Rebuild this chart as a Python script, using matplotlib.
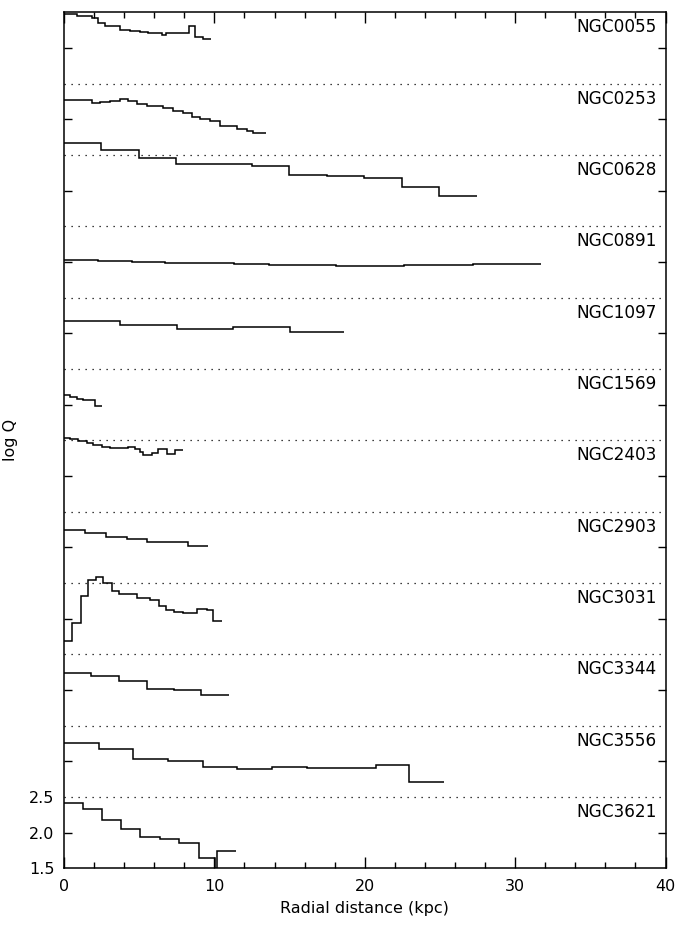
import matplotlib
matplotlib.use("Agg")
import matplotlib.pyplot as plt
from matplotlib.ticker import MultipleLocator

# ---- data: step edges (kpc) and log Q values per galaxy (top to bottom) ----
galaxies = ["NGC0055", "NGC0253", "NGC0628", "NGC0891", "NGC1097", "NGC1569",
            "NGC2403", "NGC2903", "NGC3031", "NGC3344", "NGC3556", "NGC3621"]

r_ngc0055 = [0, 0.86, 1.86, 2.26, 2.73, 3.72, 4.39, 5.05, 5.59, 6.52, 6.8, 7.38, 8.31, 8.71, 9.24, 9.77]
q_ngc0055 = [2.475, 2.455, 2.417, 2.347, 2.309, 2.249, 2.239, 2.221, 2.207, 2.187, 2.204, 2.215, 2.309, 2.159, 2.127]

r_ngc0253 = [0, 1.84, 2.39, 3.06, 3.72, 4.26, 4.83, 5.50, 6.58, 7.25, 7.91, 8.49, 9.04, 9.71, 10.37, 11.48, 12.15, 12.57, 13.43]
q_ngc0253 = [2.271, 2.233, 2.247, 2.261, 2.281, 2.261, 2.215, 2.187, 2.163, 2.117, 2.093, 2.037, 2.009, 1.977, 1.907, 1.860, 1.832, 1.813]

r_ngc0628 = [0, 2.46, 4.97, 7.45, 12.48, 14.98, 17.47, 19.97, 22.45, 24.95, 27.44]
q_ngc0628 = [2.672, 2.570, 2.451, 2.369, 2.352, 2.219, 2.205, 2.181, 2.047, 1.929]

r_ngc0891 = [0, 2.23, 4.53, 6.72, 9.04, 11.30, 13.6, 18.08, 22.6, 27.2, 31.7]
q_ngc0891 = [2.033, 2.015, 2.001, 1.991, 1.982, 1.972, 1.958, 1.944, 1.962, 1.977]

r_ngc1097 = [0, 3.72, 7.49, 11.22, 15.03, 18.62]
q_ngc1097 = [2.177, 2.117, 2.061, 2.085, 2.019]

r_ngc1569 = [0, 0.40, 0.84, 1.28, 2.06, 2.55]
q_ngc1569 = [2.135, 2.111, 2.079, 2.065, 1.981]

r_ngc2403 = [0, 0.40, 0.95, 1.51, 1.95, 2.51, 3.06, 3.61, 4.28, 4.72, 5.05, 5.27, 5.83, 6.27, 6.83, 7.38, 7.93]
q_ngc2403 = [2.537, 2.519, 2.495, 2.459, 2.435, 2.411, 2.393, 2.389, 2.403, 2.375, 2.341, 2.295, 2.319, 2.379, 2.309, 2.369]

r_ngc2903 = [0, 1.40, 2.79, 4.17, 5.54, 8.22, 9.59]
q_ngc2903 = [2.243, 2.205, 2.149, 2.113, 2.079, 2.023]

r_ngc3031 = [0, 0.55, 1.11, 1.62, 2.11, 2.57, 3.17, 3.68, 4.83, 5.72, 6.34, 6.78, 7.31, 7.93, 8.86, 9.49, 9.93, 10.49]
q_ngc3031 = [1.686, 1.943, 2.322, 2.542, 2.588, 2.504, 2.392, 2.341, 2.285, 2.261, 2.177, 2.121, 2.093, 2.079, 2.135, 2.121, 1.971]

r_ngc3344 = [0, 1.78, 3.66, 5.50, 7.31, 9.11, 10.97]
q_ngc3344 = [2.233, 2.195, 2.129, 2.017, 1.995, 1.929]

r_ngc3556 = [0, 2.33, 4.61, 6.93, 9.22, 11.52, 13.81, 16.14, 20.74, 22.96, 25.27]
q_ngc3556 = [2.253, 2.169, 2.037, 2.005, 1.925, 1.893, 1.925, 1.902, 1.949, 1.706]

r_ngc3621 = [0, 1.24, 2.55, 3.79, 5.05, 6.38, 7.67, 8.96, 10.04, 10.15, 11.44]
q_ngc3621 = [2.411, 2.331, 2.177, 2.051, 1.943, 1.911, 1.859, 1.640, 1.40, 1.747]

radii = [r_ngc0055, r_ngc0253, r_ngc0628, r_ngc0891, r_ngc1097, r_ngc1569,
         r_ngc2403, r_ngc2903, r_ngc3031, r_ngc3344, r_ngc3556, r_ngc3621]
logq = [q_ngc0055, q_ngc0253, q_ngc0628, q_ngc0891, q_ngc1097, q_ngc1569,
        q_ngc2403, q_ngc2903, q_ngc3031, q_ngc3344, q_ngc3556, q_ngc3621]

ytick_labels = ["1.5", "2.0", "2.5"]
xtick_values = [0, 10, 20, 30, 40]

# ---- figure ----
plt.rcParams['font.family'] = ['DejaVu Sans']
fig = plt.figure(figsize=(6.78, 9.32), dpi=100)
ax = fig.add_axes([0.0944, 0.0683, 0.8872, 0.9185])

n = len(galaxies)
for k, (name, r, q) in enumerate(zip(galaxies, radii, logq)):
    off = (n - 1 - k)
    ax.stairs([v + off for v in q], r, baseline=None, color='black', lw=1.1)
    ax.text(39.4, 2.29 + off, name, ha='right', va='center', fontsize=12.2)
    if k < n - 1:
        ax.axhline(1.5 + off, color='black', lw=0.9, linestyle=(0, (1, 4.6)))

ax.set_xlim(0, 40)
ax.set_ylim(1.5, 1.5 + n)

ax.set_xticks(xtick_values)
ax.set_xticklabels([str(v) for v in xtick_values])
ax.xaxis.set_minor_locator(MultipleLocator(2))

# major y ticks: panel centres (2.0 label only on the bottom one)
yt = [2.0 + i for i in range(n)]
ax.set_yticks(yt)
ax.set_yticklabels([ytick_labels[1]] + [""] * (n - 1))
# minor y ticks: labelled panel edges of the bottom panel, no marks
ax.set_yticks([1.5, 2.5], minor=True)
ax.set_yticklabels([ytick_labels[0], ytick_labels[2]], minor=True)

ax.tick_params(axis='x', which='major', direction='in', length=8, width=1,
               top=True, bottom=True, labelsize=11.5, pad=8)
ax.tick_params(axis='x', which='minor', direction='in', length=4, width=1,
               top=True, bottom=True)
ax.tick_params(axis='y', which='major', direction='in', length=6, width=1,
               left=True, right=True, labelsize=11.5, pad=7)
ax.tick_params(axis='y', which='minor', direction='in', length=0,
               left=True, right=False, labelsize=11.5, pad=7)

for s in ax.spines.values():
    s.set_linewidth(1.1)

ax.set_xlabel("Radial distance (kpc)", fontsize=11.5, labelpad=5)
ax.set_ylabel("log Q", fontsize=11.5, labelpad=8)

fig.savefig("out.png", dpi=100)
